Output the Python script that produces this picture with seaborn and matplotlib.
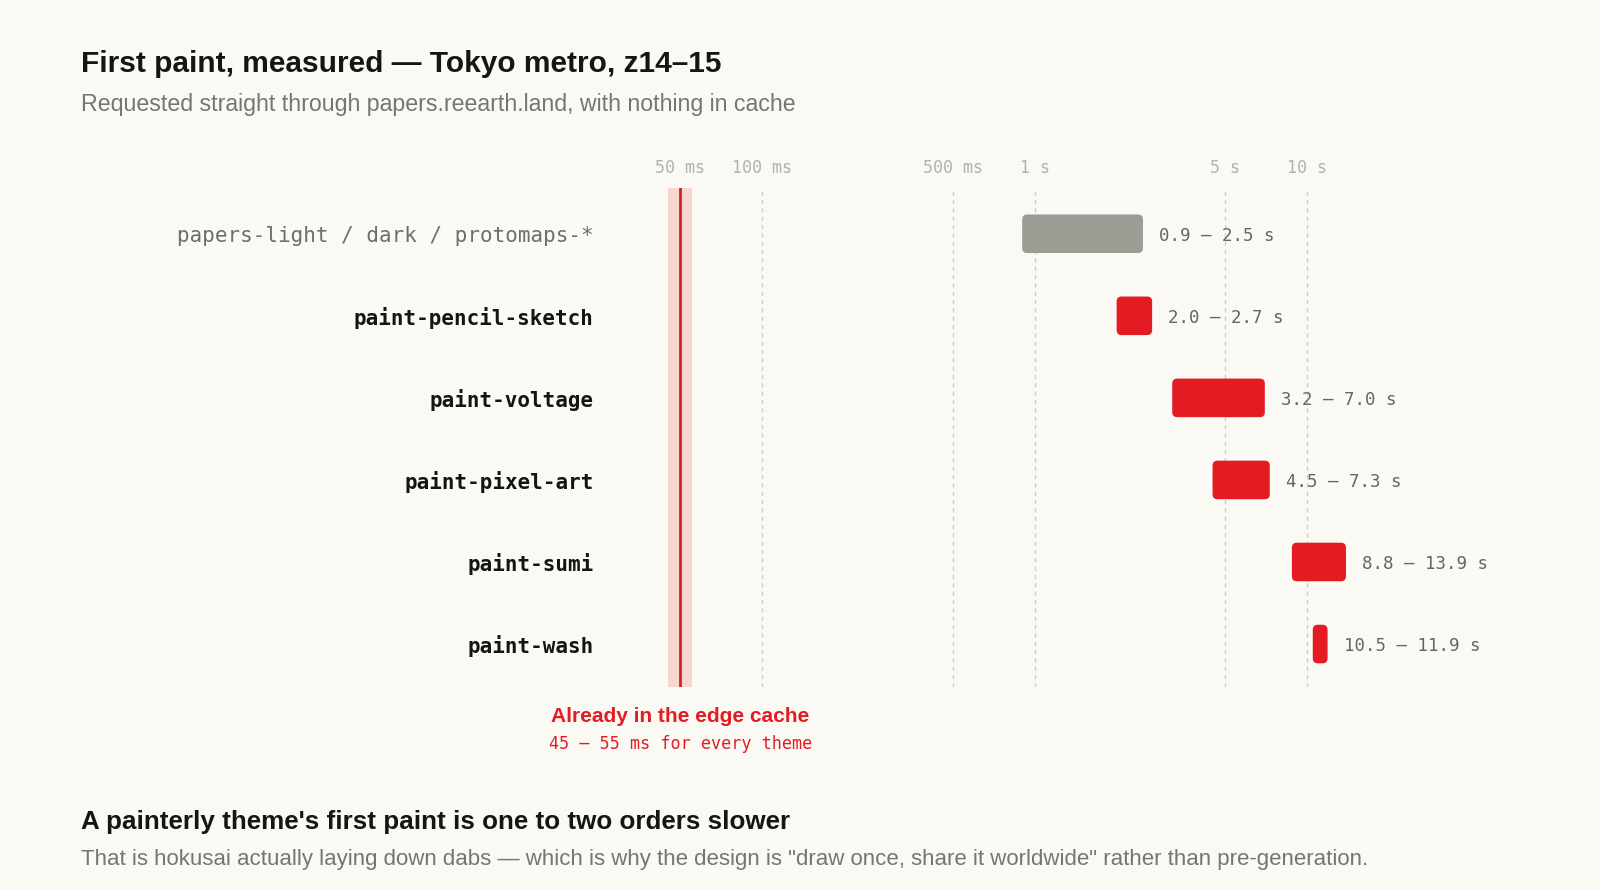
import numpy as np
import pandas as pd
import matplotlib
matplotlib.use("Agg")
from matplotlib import pyplot as plt
from matplotlib.patches import FancyBboxPatch
from matplotlib.transforms import IdentityTransform
import seaborn as sns

# first paint per theme, seconds (low / high)
themes = ["papers-light / dark / protomaps-*", "paint-pencil-sketch", "paint-voltage",
          "paint-pixel-art", "paint-sumi", "paint-wash"]
start_s = [0.9, 2.0, 3.2, 4.5, 8.8, 10.5]
end_s = [2.5, 2.7, 7.0, 7.3, 13.9, 11.9]

tick_s = [0.05, 0.1, 0.5, 1, 5, 10]
tick_labels = ["50 ms", "100 ms", "500 ms", "1 s", "5 s", "10 s"]

# edge cache hit range, seconds
cache_lo, cache_mid, cache_hi = 0.045, 0.05, 0.055

BG = "#fbf9f3"
RED = "#e31b23"
GRAY_BAR = "#9d9c95"
MONO = "DejaVu Sans Mono"
SANS = "Liberation Sans"

sns.set_theme(style="white", rc={"figure.facecolor": BG, "axes.facecolor": BG,
                                 "savefig.facecolor": BG})
plt.rcParams["font.family"] = [SANS, "DejaVu Sans"]

fig = plt.figure(figsize=(16, 8.9), dpi=100)
ax = fig.add_axes([0.3874, 0.2284, 0.5107, 0.5606])
ax.set_xscale("log")

df = pd.DataFrame({"theme": themes, "start": start_s, "end": end_s})
df["span"] = df["end"] - df["start"]

sns.barplot(data=df, x="span", y="theme", left=df["start"].to_numpy(), width=0.47,
            color=RED, orient="y", ax=ax, linewidth=0)
bars = list(ax.containers[0])

ax.set_xlim(0.03, 30)
ax.set_ylim(5.52, -0.56)

# cache band + gridlines
ax.axvspan(cache_lo, cache_hi, color="#f9d5cf", zorder=0, lw=0)
ax.axvline(cache_mid, color="#c8242c", lw=2, zorder=1)
for t in tick_s[1:]:
    ax.axvline(t, color="#cfccc6", lw=1, ls=(0, (3, 3)), zorder=0)

ax.xaxis.tick_top()
ax.set_xticks(tick_s)
ax.set_xticklabels(tick_labels, family=MONO, fontsize=12, color="#b3b1ab")
ax.xaxis.set_minor_locator(matplotlib.ticker.NullLocator())
ax.tick_params(axis="x", length=0, pad=7.5)
ax.tick_params(axis="y", length=0, pad=19)
ax.set_yticks(range(len(themes)))
ax.set_yticklabels(themes, family=MONO, fontsize=15)
for i, lbl in enumerate(ax.get_yticklabels()):
    if i == 0:
        lbl.set_color("#6e6d68")
    else:
        lbl.set_color("#141414")
        lbl.set_fontweight("bold")
ax.set_xlabel("")
ax.set_ylabel("")
for s in ax.spines.values():
    s.set_visible(False)

for i, (a, b) in enumerate(zip(start_s, end_s)):
    ax.annotate(f"{a:.1f} – {b:.1f} s", xy=(b, i), xytext=(16, -2),
                textcoords="offset pixels", va="center", ha="left",
                family=MONO, fontsize=12.5, color="#666561")

ax.annotate("Already in the edge cache", xy=(cache_mid, 0), xycoords=("data", "axes fraction"),
            xytext=(0, -30), textcoords="offset pixels", ha="center", va="center",
            fontsize=15, fontweight="bold", color=RED, annotation_clip=False)
ax.annotate("45 – 55 ms for every theme", xy=(cache_mid, 0), xycoords=("data", "axes fraction"),
            xytext=(0, -57), textcoords="offset pixels", ha="center", va="center",
            family=MONO, fontsize=12.1, color=RED, annotation_clip=False)

fig.text(80.6 / 1600, 1 - 64 / 890, "First paint, measured — Tokyo metro, z14–15",
         fontsize=21.5, fontweight="bold", color="#151515", va="center")
fig.text(80.6 / 1600, 1 - 104 / 890,
         "Requested straight through papers.reearth.land, with nothing in cache",
         fontsize=16.7, color="#77756f", va="center")
fig.text(80.6 / 1600, 1 - 822 / 890,
         "A painterly theme's first paint is one to two orders slower",
         fontsize=18.7, fontweight="bold", color="#151515", va="center")
fig.text(80.6 / 1600, 1 - 859 / 890,
         "That is hokusai actually laying down dabs — which is why the design is "
         "\"draw once, share it worldwide\" rather than pre-generation.",
         fontsize=16.05, color="#77756f", va="center")

# swap the square bars for rounded ones at the same pixel extents
fig.canvas.draw()
renderer = fig.canvas.get_renderer()
for i, p in enumerate(bars):
    bb = p.get_window_extent(renderer)
    p.set_visible(False)
    rb = FancyBboxPatch((bb.x0, bb.y0), bb.width, bb.height,
                        boxstyle="round,pad=0,rounding_size=5",
                        transform=IdentityTransform(),
                        facecolor=GRAY_BAR if i == 0 else RED, edgecolor="none", zorder=3)
    fig.add_artist(rb)

fig.savefig("out.png", dpi=100)
